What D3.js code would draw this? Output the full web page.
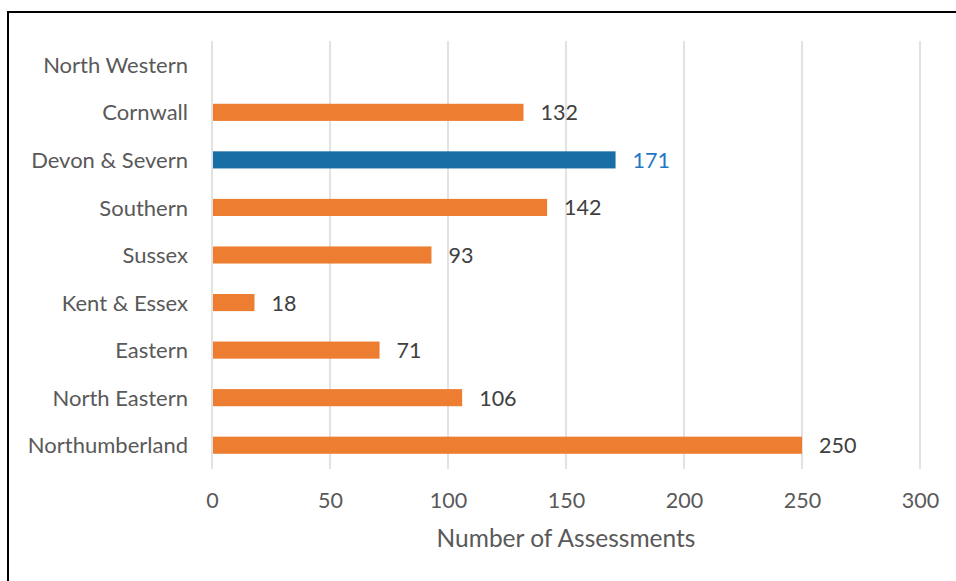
<!DOCTYPE html>
<html>
<head>
<meta charset="utf-8">
<script src="https://cdn.jsdelivr.net/npm/d3@7"></script>
<style>
  body { margin: 0; background: #fff; }
  svg text { font-family: Lato, "Open Sans", sans-serif; }
</style>
</head>
<body>
<svg id="chart" width="956" height="581"></svg>
<script>
// regions, top to bottom as drawn
const regions = ['North Western', 'Cornwall', 'Devon & Severn', 'Southern', 'Sussex',
  'Kent & Essex', 'Eastern', 'North Eastern', 'Northumberland'];
const assessments = [null, 132, 171, 142, 93, 18, 71, 106, 250];
const highlighted = ['Devon & Severn'];
const xTicks = [0, 50, 100, 150, 200, 250, 300];

const svg = d3.select('#chart');
const margin = { top: 41, left: 212, right: 36, bottom: 112 };
const height = 581 - margin.top - margin.bottom;

// frame (only left and top edges are visible in the picture)
svg.append('path')
  .attr('d', 'M8,590V12H970')
  .attr('fill', 'none')
  .attr('stroke', '#000')
  .attr('stroke-width', 2);

const g = svg.append('g').attr('transform', `translate(${margin.left},${margin.top})`);

const x = d3.scaleLinear().domain([0, 300]).range([0, 708]);
const y = d3.scaleBand().domain(regions).range([0, height]).paddingInner(0.64).paddingOuter(0.32);

// gridlines
g.append('g').selectAll('line')
  .data(xTicks)
  .join('line')
  .attr('x1', d => x(d)).attr('x2', d => x(d))
  .attr('y1', 0).attr('y2', height)
  .attr('stroke', '#d9d9d9')
  .attr('stroke-width', 1.5);

let rows = regions.map((r, i) => ({ region: r, value: assessments[i] }));

g.append('g').selectAll('rect')
  .data(rows.filter(d => d.value != null))
  .join('rect')
  .attr('x', x(0) + 1)
  .attr('y', d => y(d.region))
  .attr('width', d => x(d.value) - x(0) - 1)
  .attr('height', y.bandwidth())
  .attr('fill', d => highlighted.includes(d.region) ? '#1a6ea6' : '#ed7d31');

// value labels
g.append('g').selectAll('text')
  .data(rows.filter(d => d.value != null))
  .join('text')
  .attr('x', d => x(d.value) + 17)
  .attr('y', d => y(d.region) + y.bandwidth() / 2)
  .attr('dy', '0.37em')
  .attr('font-size', 21.5)
  .attr('fill', d => highlighted.includes(d.region) ? '#1f78c4' : '#404040')
  .text(d => d.value);

// y axis labels
const yAxis = g.append('g').call(d3.axisLeft(y).tickSize(0).tickPadding(24));
yAxis.select('.domain').remove();
yAxis.selectAll('text').attr('font-size', 22).attr('fill', '#595959')
  .attr('dy', '0.37em')
  .style('font-family', 'Lato, "Open Sans", sans-serif');

// x axis labels
const xAxis = g.append('g')
  .attr('transform', `translate(0,${height})`)
  .call(d3.axisBottom(x).tickValues(xTicks).tickSize(0).tickPadding(24));
xAxis.select('.domain').remove();
xAxis.selectAll('text').attr('font-size', 21.5).attr('fill', '#595959')
  .style('font-family', 'Lato, "Open Sans", sans-serif');

// axis title
g.append('text')
  .attr('x', x(150))
  .attr('y', height + 78)
  .attr('text-anchor', 'middle')
  .attr('font-size', 24.5)
  .attr('fill', '#595959')
  .text('Number of Assessments');
</script>
</body>
</html>
